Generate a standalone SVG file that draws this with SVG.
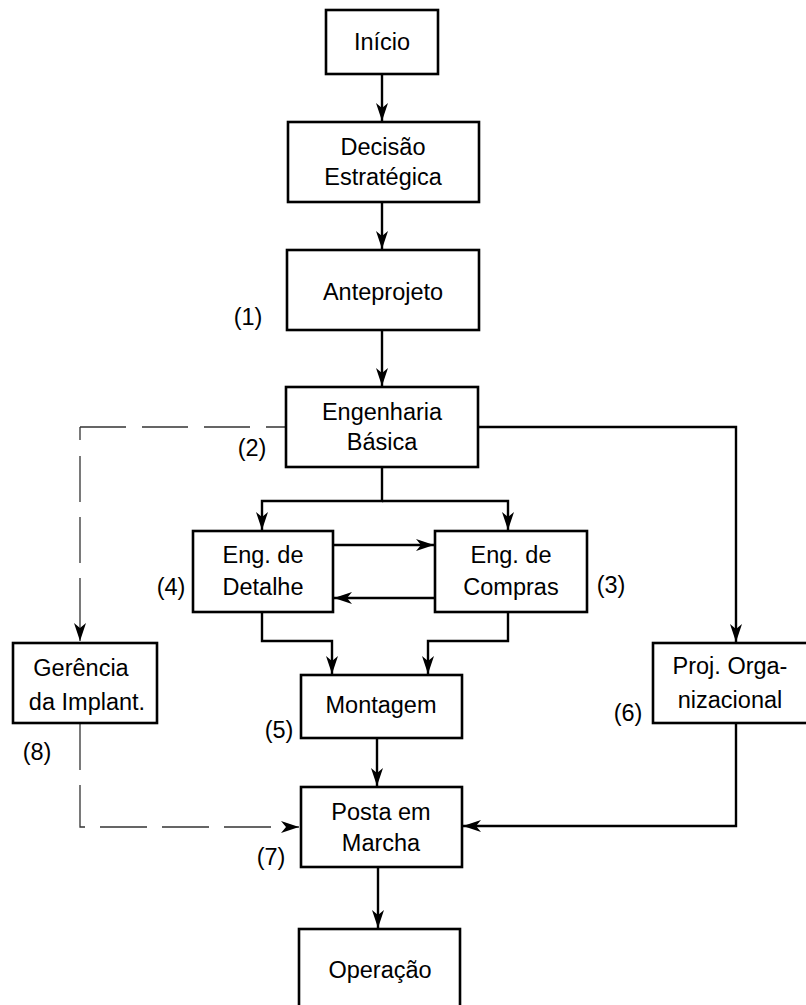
<svg xmlns="http://www.w3.org/2000/svg" width="806" height="1005" viewBox="0 0 806 1005">
  <style>
    .box { fill: #ffffff; stroke: #000000; stroke-width: 2.6; }
    .lbl { font-family: "Liberation Sans", Arial, sans-serif; font-size: 23.5px; fill: #000000; text-anchor: middle; }
    .num { font-family: "Liberation Sans", Arial, sans-serif; font-size: 23.5px; fill: #000000; text-anchor: middle; }
    .flow { fill: none; stroke: #000000; stroke-width: 2.4; }
    .dash { fill: none; stroke: #333333; stroke-width: 1.3; }
  </style>
  <defs>
    <marker id="arrow" viewBox="-20 -8 22 16" refX="0" refY="0" markerWidth="22" markerHeight="16" markerUnits="userSpaceOnUse" orient="auto">
      <path d="M0,0 L-18,-6 L-13,0 L-18,6 Z" fill="#000000"/>
    </marker>
  </defs>
  <rect width="806" height="1005" fill="#ffffff"/>

  <!-- connectors -->
  <g id="connectors">
    <path class="flow" d="M382,74 V121" marker-end="url(#arrow)"/>
    <path class="flow" d="M382,202 V249" marker-end="url(#arrow)"/>
    <path class="flow" d="M382,330 V386" marker-end="url(#arrow)"/>
    <path class="flow" d="M382,467 V501 H262 V530" marker-end="url(#arrow)"/>
    <path class="flow" d="M382,501 H508 V530" marker-end="url(#arrow)"/>
    <path class="flow" d="M333,545 H434" marker-end="url(#arrow)"/>
    <path class="flow" d="M435,598 H334" marker-end="url(#arrow)"/>
    <path class="flow" d="M262,612 V641 H332 V674" marker-end="url(#arrow)"/>
    <path class="flow" d="M508,612 V641 H428 V674" marker-end="url(#arrow)"/>
    <path class="flow" d="M377,738 V786" marker-end="url(#arrow)"/>
    <path class="flow" d="M378,867 V928" marker-end="url(#arrow)"/>
    <path class="flow" d="M478,427 H736 V642" marker-end="url(#arrow)"/>
    <path class="flow" d="M736,723 V826 H463" marker-end="url(#arrow)"/>
    <!-- dashed management links -->
    <path class="dash" d="M80,427 H286" stroke-dasharray="46 16"/>
    <path class="dash" d="M80,427 V641" stroke-dasharray="13 16 46 15 46 15 100" marker-end="url(#arrow)"/>
    <path class="dash" d="M80,723 V827 H299" stroke-dasharray="47 15" marker-end="url(#arrow)"/>
  </g>

  <g id="inicio">
    <rect class="box" x="326" y="10" width="112" height="64"/>
    <text class="lbl" x="382" y="50">Início</text>
  </g>
  <g id="decisao">
    <rect class="box" x="288" y="122" width="191" height="80"/>
    <text class="lbl" x="383" y="155">Decisão</text>
    <text class="lbl" x="383" y="185">Estratégica</text>
  </g>
  <g id="anteprojeto">
    <rect class="box" x="287" y="250" width="192" height="80"/>
    <text class="lbl" x="383" y="300">Anteprojeto</text>
  </g>
  <g id="eng-basica">
    <rect class="box" x="286" y="387" width="192" height="80"/>
    <text class="lbl" x="382" y="420">Engenharia</text>
    <text class="lbl" x="382" y="450">Básica</text>
  </g>
  <g id="eng-detalhe">
    <rect class="box" x="193" y="531" width="140" height="81"/>
    <text class="lbl" x="263" y="563">Eng. de</text>
    <text class="lbl" x="263" y="595">Detalhe</text>
  </g>
  <g id="eng-compras">
    <rect class="box" x="435" y="531" width="152" height="81"/>
    <text class="lbl" x="511" y="563">Eng. de</text>
    <text class="lbl" x="511" y="595">Compras</text>
  </g>
  <g id="gerencia">
    <rect class="box" x="13" y="643" width="144" height="80"/>
    <text class="lbl" x="81" y="676">Gerência</text>
    <text class="lbl" x="87" y="710">da Implant.</text>
  </g>
  <g id="montagem">
    <rect class="box" x="301" y="675" width="161" height="63"/>
    <text class="lbl" x="381" y="713">Montagem</text>
  </g>
  <g id="proj-org">
    <rect class="box" x="653" y="643" width="160" height="80"/>
    <text class="lbl" x="730" y="674">Proj. Orga-</text>
    <text class="lbl" x="730" y="708">nizacional</text>
  </g>
  <g id="posta-marcha">
    <rect class="box" x="301" y="787" width="161" height="80"/>
    <text class="lbl" x="381" y="820">Posta em</text>
    <text class="lbl" x="381" y="851">Marcha</text>
  </g>
  <g id="operacao">
    <rect class="box" x="299" y="929" width="161" height="90"/>
    <text class="lbl" x="380" y="978">Operação</text>
  </g>

  <!-- phase numbers -->
  <g id="phase-numbers">
    <text class="num" x="248" y="325">(1)</text>
    <text class="num" x="252" y="456">(2)</text>
    <text class="num" x="611" y="593">(3)</text>
    <text class="num" x="171" y="595">(4)</text>
    <text class="num" x="279" y="738">(5)</text>
    <text class="num" x="628" y="721">(6)</text>
    <text class="num" x="271" y="865">(7)</text>
    <text class="num" x="37" y="760">(8)</text>
  </g>
</svg>
